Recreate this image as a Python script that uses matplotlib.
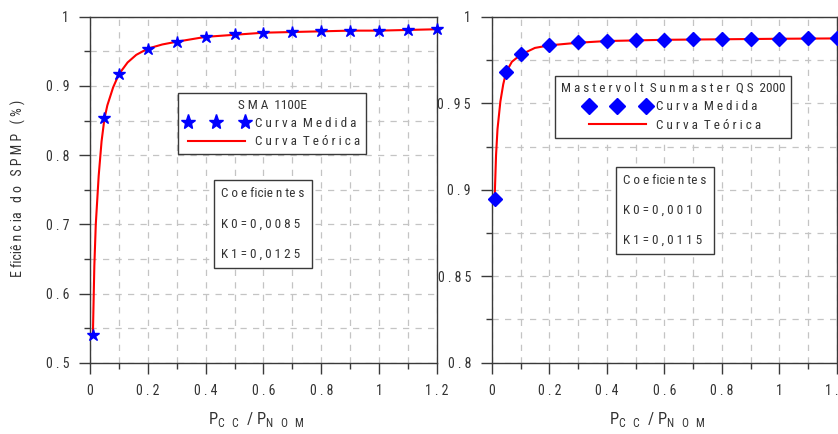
import matplotlib
matplotlib.use("Agg")
import matplotlib.pyplot as plt
from matplotlib.lines import Line2D
from matplotlib.ticker import MultipleLocator, FuncFormatter

plt.rcParams["font.family"] = ["Roboto Condensed", "DejaVu Sans"]
plt.rcParams["mathtext.fontset"] = "custom"
plt.rcParams["mathtext.rm"] = "Roboto Condensed"

# --- SMA 1100E ---
sma_x = [0.01, 0.05, 0.1, 0.2, 0.3, 0.4, 0.5, 0.6, 0.7, 0.8, 0.9, 1.0, 1.1, 1.2]
sma_meas = [0.540, 0.853, 0.917, 0.954, 0.964, 0.971, 0.9745, 0.977, 0.978,
            0.979, 0.9795, 0.980, 0.981, 0.982]
sma_curve_x = [0.01, 0.015, 0.02, 0.03, 0.04, 0.05, 0.06, 0.08, 0.1, 0.13,
               0.16, 0.2, 0.25, 0.3, 0.4, 0.5, 0.6, 0.7, 0.8, 0.9, 1.0, 1.1, 1.2]
sma_curve = [0.540, 0.640, 0.700, 0.770, 0.820, 0.853, 0.872, 0.898, 0.917,
             0.934, 0.945, 0.954, 0.960, 0.964, 0.971, 0.974, 0.977, 0.978,
             0.979, 0.980, 0.980, 0.981, 0.982]

# --- Mastervolt Sunmaster QS 2000 ---
mv_x = [0.01, 0.05, 0.1, 0.2, 0.3, 0.4, 0.5, 0.6, 0.7, 0.8, 0.9, 1.0, 1.1, 1.2]
mv_meas = [0.8944, 0.968, 0.9784, 0.9835, 0.9852, 0.986, 0.9863, 0.9867,
           0.987, 0.9872, 0.9873, 0.9874, 0.9875, 0.9875]
mv_curve_x = [0.01, 0.015, 0.02, 0.03, 0.04, 0.05, 0.07, 0.1, 0.15, 0.2,
              0.3, 0.4, 0.6, 0.8, 1.0, 1.2]
mv_curve = [0.8944, 0.920, 0.935, 0.951, 0.961, 0.968, 0.974, 0.978, 0.982,
            0.9835, 0.985, 0.986, 0.9867, 0.987, 0.9873, 0.9875]

FS = 9.5
GRID = "#c4c4c4"
SPINE = "#3a3a3a"
TXT = "#333333"


def spaced(s):
    # wide letter spacing, words separated by a double gap
    return "  ".join(" ".join(w) for w in s.split(" "))


def style_axes(ax, ymin, ymax, ymajor, yminor):
    ax.set_xlim(0, 1.2)
    ax.set_ylim(ymin, ymax)
    ax.xaxis.set_major_locator(MultipleLocator(0.2))
    ax.xaxis.set_minor_locator(MultipleLocator(0.1))
    ax.yaxis.set_major_locator(MultipleLocator(ymajor))
    ax.yaxis.set_minor_locator(MultipleLocator(yminor))
    ax.xaxis.set_major_formatter(FuncFormatter(lambda v, p: spaced(f"{v:g}")))
    ax.yaxis.set_major_formatter(FuncFormatter(lambda v, p: spaced(f"{v:g}")))
    ax.tick_params(which="major", direction="out", length=8, width=1,
                   color=SPINE, pad=7, labelsize=10, labelcolor=TXT)
    ax.tick_params(which="minor", direction="out", length=4, width=1, color=SPINE)
    ax.grid(True, which="both", color=GRID, ls=(0, (5, 5)), lw=0.9)
    ax.set_axisbelow(True)
    for s in ax.spines.values():
        s.set_color(SPINE)
        s.set_linewidth(1)
    ax.set_xlabel(r"P$_{\mathrm{C\ \ C}}$  / P$_{\mathrm{N\ \ O\ \ M}}$",
                  fontsize=12, color=TXT)
    ax.xaxis.set_label_coords(0.479, -0.165)
    ax.xaxis.label.set_va("center")


def add_legend(ax, marker, ms, title, anchor):
    handles = [Line2D([], [], ls="none", marker=marker, ms=ms, color="blue"),
               Line2D([], [], color="red", lw=1.5)]
    leg = ax.legend(handles, [spaced("Curva Medida"), spaced("Curva Teórica")],
                    title=title, numpoints=3, fontsize=FS, title_fontsize=FS,
                    loc="upper left", bbox_to_anchor=anchor, fancybox=False,
                    edgecolor=SPINE, framealpha=1, handlelength=4.9,
                    borderpad=0.45, labelspacing=0.4, handletextpad=0.5,
                    borderaxespad=0)
    leg.get_frame().set_linewidth(1)
    for t in leg.get_texts():
        t.set_color(TXT)
    leg.get_title().set_color(TXT)
    return leg


def add_coefs(ax, k0, k1, pos):
    ax.text(pos[0], pos[1],
            "C o e ficie n te s" + "\n\n" + f"K 0 = {spaced(k0)}" + "\n\n"
            + f"K 1 = {spaced(k1)}",
            transform=ax.transAxes, fontsize=FS, ha="center", va="center",
            multialignment="left", linespacing=1.2, color=TXT, zorder=5,
            bbox=dict(boxstyle="square,pad=0.55", fc="white", ec=SPINE, lw=1))


fig = plt.figure(figsize=(8.38, 4.34), dpi=100)
ax1 = fig.add_axes([0.1074, 0.1643, 0.414, 0.797])
ax2 = fig.add_axes([0.5868, 0.1643, 0.412, 0.797])

# left panel
style_axes(ax1, 0.5, 1.0, 0.1, 0.05)
ax1.plot(sma_curve_x, sma_curve, color="red", lw=1.5, zorder=3)
ax1.plot(sma_x, sma_meas, ls="none", marker="*", ms=9, color="blue",
         zorder=4, clip_on=False)
ax1.set_ylabel("E ficiê n c ia   d o   S P M P   ( % )", fontsize=10, color=TXT)
ax1.yaxis.set_label_coords(-0.207, 0.505)
ax1.yaxis.label.set_va("center")
add_legend(ax1, "*", 11, "S M A  1100E", (0.254, 0.78))
add_coefs(ax1, "0,0085", "0,0125", (0.4986, 0.4014))

# right panel
style_axes(ax2, 0.8, 1.0, 0.05, 0.025)
ax2.plot(mv_curve_x, mv_curve, color="red", lw=1.5, zorder=3)
ax2.plot(mv_x, mv_meas, ls="none", marker="D", ms=7, color="blue",
         zorder=4, clip_on=False)
add_legend(ax2, "D", 8, "M a s t e r v o l t  S u n m a s t e r  Q S  2000",
           (0.183, 0.8286))
add_coefs(ax2, "0,0010", "0,0115", (0.501, 0.4405))

fig.savefig("out.png", dpi=100)
